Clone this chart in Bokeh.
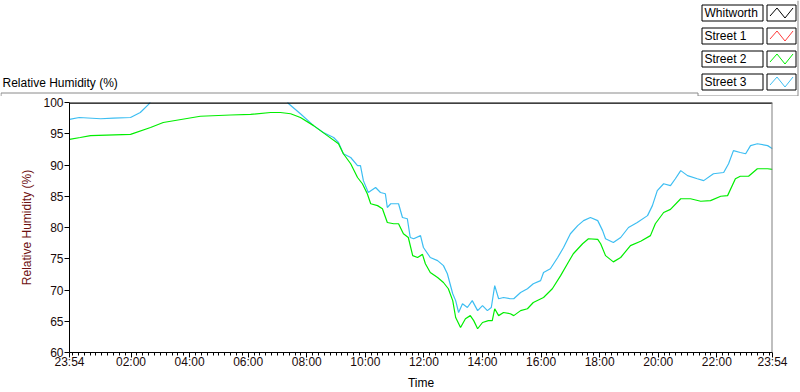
from bokeh.plotting import figure
from bokeh.models import Range1d, FixedTicker, Span
from bokeh.layouts import column
from bokeh.embed import file_html
from bokeh.resources import INLINE
from bokeh.core.properties import value

FONT = "Liberation Sans"
START = "23:54"

series_names = ["Whitworth", "Street 1", "Street 2", "Street 3"]
series_colors = ["#000000", "#FF3B3B", "#00EE00", "#3DBEF2"]

street2_time = ["23:54", "00:16", "00:37", "01:59", "02:40", "03:06", "04:22", "05:24", "06:05", "06:46",
                "07:06", "07:27", "07:47", "08:14", "08:42", "09:05", "09:15", "09:30", "09:44", "09:54",
                "10:04", "10:11", "10:25", "10:35", "10:45", "10:58", "11:08", "11:18", "11:28", "11:37",
                "11:47", "11:57", "12:03", "12:13", "12:28", "12:40", "12:50", "12:59", "13:05", "13:15",
                "13:25", "13:35", "13:42", "13:50", "14:00", "14:12", "14:20", "14:25", "14:33", "14:43",
                "14:57", "15:04", "15:18", "15:32", "15:44", "16:05", "16:23", "16:40", "16:54", "17:06",
                "17:25", "17:37", "17:56", "18:02", "18:12", "18:28", "18:43", "19:03", "19:24", "19:44",
                "19:54", "20:11", "20:25", "20:46", "21:06", "21:27", "21:47", "22:08", "22:22", "22:38",
                "22:48", "23:05", "23:23", "23:44", "23:54"]
street2_rh = [94.1, 94.4, 94.7, 94.9, 96.0, 96.8, 97.8, 98.0, 98.1, 98.4,
              98.4, 98.2, 97.6, 96.3, 94.7, 93.4, 91.8, 90.2, 88.0, 87.0,
              85.4, 83.8, 83.5, 83.0, 80.8, 80.6, 80.6, 79.0, 78.4, 75.5,
              75.2, 75.7, 74.2, 72.8, 72.0, 71.2, 70.2, 68.3, 65.6, 64.0,
              65.4, 65.9, 65.1, 63.8, 64.8, 65.1, 65.1, 67.0, 65.9, 66.4,
              66.2, 65.9, 66.7, 67.0, 68.0, 68.8, 70.2, 72.3, 74.2, 75.8,
              77.4, 78.2, 78.1, 77.4, 75.5, 74.5, 75.2, 77.1, 77.8, 78.7,
              80.6, 82.4, 82.9, 84.6, 84.6, 84.2, 84.3, 85.0, 85.1, 87.8,
              88.2, 88.2, 89.4, 89.4, 89.3]

street3_time = ["23:54", "00:14", "00:58", "01:24", "01:59", "02:19", "02:36", "02:44", "07:16", "07:23",
                "07:47", "08:14", "08:34", "08:55", "09:05", "09:15", "09:30", "09:44", "09:50", "09:56",
                "10:06", "10:21", "10:31", "10:41", "10:45", "10:52", "11:08", "11:16", "11:26", "11:32",
                "11:39", "11:53", "11:59", "12:13", "12:28", "12:40", "12:48", "12:59", "13:05", "13:11",
                "13:19", "13:29", "13:39", "13:50", "14:00", "14:10", "14:18", "14:25", "14:33", "14:43",
                "14:57", "15:04", "15:18", "15:32", "15:44", "15:59", "16:05", "16:19", "16:34", "16:46",
                "17:00", "17:15", "17:27", "17:41", "17:56", "18:06", "18:12", "18:28", "18:43", "18:59",
                "19:17", "19:38", "19:48", "19:58", "20:11", "20:25", "20:35", "20:46", "21:00", "21:20",
                "21:33", "21:53", "22:14", "22:24", "22:34", "22:48", "22:59", "23:09", "23:23", "23:44",
                "23:54"]
street3_rh = [97.3, 97.6, 97.4, 97.5, 97.6, 98.4, 99.7, 100.6, 100.6, 99.8,
              98.2, 96.3, 95.2, 94.4, 93.6, 91.8, 91.2, 89.9, 89.9, 87.5,
              85.6, 86.4, 85.6, 85.4, 83.2, 83.8, 83.8, 81.6, 81.4, 78.4,
              78.2, 78.7, 76.8, 75.2, 74.7, 73.9, 72.6, 69.4, 68.3, 66.4,
              67.8, 67.2, 68.3, 66.7, 67.5, 66.7, 67.2, 70.7, 68.6, 68.8,
              68.6, 68.6, 69.6, 70.2, 71.0, 71.5, 72.8, 73.4, 75.2, 76.8,
              79.0, 80.3, 81.1, 81.6, 81.1, 79.5, 78.2, 77.6, 78.4, 80.0,
              80.8, 81.9, 83.5, 85.9, 87.0, 86.7, 87.8, 89.1, 88.3, 87.8,
              87.5, 88.6, 88.8, 90.2, 92.3, 92.0, 91.8, 93.1, 93.4, 93.1,
              92.6]

x_tick_labels = ["23:54", "02:00", "04:00", "06:00", "08:00", "10:00", "12:00",
                 "14:00", "16:00", "18:00", "20:00", "22:00", "23:54"]
y_ticks = [60, 65, 70, 75, 80, 85, 90, 95, 100]


def to_offsets(times):
    sh, sm = map(int, START.split(":"))
    s = sh * 60 + sm
    out, prev = [], -1
    for t in times:
        h, m = map(int, t.split(":"))
        o = (h * 60 + m - s) % 1440
        if o <= prev:
            o += 1440
        out.append(o)
        prev = o
    return out


W = 800
TOP_H = 96
BOT_H = 296

# ---------------- top strip: title + legend ----------------
top = figure(width=W, height=TOP_H, x_range=Range1d(0, W), y_range=Range1d(TOP_H, 0),
             output_backend="svg", toolbar_location=None, min_border=0,
             x_axis_location=None, y_axis_location=None)
top.grid.visible = False
top.outline_line_color = None
top.frame_align = False

row_tops = [4.5 + 23 * i for i in range(len(series_names))]
row_bots = [t + 16 for t in row_tops]
row_mids = [(a + b) / 2 for a, b in zip(row_tops, row_bots)]
tb_l, tb_r = 701.5, 762.5
ib_l, ib_r = 766.5, 795.5
top.quad(left=[tb_l] * 4, right=[tb_r] * 4, top=row_tops, bottom=row_bots,
         fill_color="white", line_color="black", line_width=1)
top.quad(left=[ib_l] * 4, right=[ib_r] * 4, top=row_tops, bottom=row_bots,
         fill_color="white", line_color="black", line_width=1)
top.text(x=[tb_l + 2.5] * 4, y=row_mids, text=series_names, text_font=value(FONT),
         text_font_size="12px", text_baseline="middle", text_color="black")
for t, b, c in zip(row_tops, row_bots, series_colors):
    top.line([ib_l + 3, ib_l + 10, ib_l + 18, ib_l + 26], [(t + b) / 2 + 3, t + 3, b - 3, t + 3],
             line_color=c, line_width=1)

# panel border lines
top.line([0.5, 0.5, 697.5, 697.5, 797.5, 797.5], [TOP_H, 92.5, 92.5, 95.5, 95.5, 0],
         line_color="#8a8a8a", line_width=1)

top.text(x=[2], y=[82], text=["Relative Humidity (%)"], text_font=value(FONT),
         text_font_size="12px", text_baseline="middle", text_color="black")

# ---------------- main chart ----------------
p = figure(width=W, height=BOT_H, x_range=Range1d(0, 1440), y_range=Range1d(60, 100),
           output_backend="svg", toolbar_location=None,
           min_border_left=69, min_border_right=28, min_border_top=6, min_border_bottom=40)
p.grid.visible = False
p.outline_line_color = None
p.frame_align = False

x2 = to_offsets(street2_time)
x3 = to_offsets(street3_time)
p.line(x3, street3_rh, line_color=series_colors[3], line_width=1.2)
p.line(x2, street2_rh, line_color=series_colors[2], line_width=1.2)

p.add_layout(Span(location=100, dimension="width", line_color="black", line_width=2.5))
p.add_layout(Span(location=1440, dimension="height", line_color="#808080", line_width=2))

x_major = to_offsets(x_tick_labels)
x_minor = list(range(6, 1440, 12))
p.xaxis.ticker = FixedTicker(ticks=x_major, minor_ticks=x_minor)
p.xaxis.major_label_overrides = {t: l for t, l in zip(x_major, x_tick_labels)}
p.xaxis.axis_label = "Time"

p.yaxis.ticker = FixedTicker(ticks=y_ticks, minor_ticks=[])
p.yaxis.axis_label = "Relative Humidity (%)"

for ax in (p.xaxis[0], p.yaxis[0]):
    ax.axis_line_color = "black"
    ax.major_tick_line_color = "black"
    ax.minor_tick_line_color = "black"
    ax.major_tick_in = 0
    ax.minor_tick_in = 0
    ax.major_label_text_font = FONT
    ax.axis_label_text_font = FONT
    ax.axis_label_text_font_style = "normal"
    ax.major_label_text_color = "#1a0a0a"

p.xaxis.major_tick_out = 5
p.xaxis.minor_tick_out = 3
p.xaxis.major_label_standoff = -3
p.xaxis.major_label_text_font_size = "12px"
p.xaxis.axis_label_standoff = 4
p.xaxis.axis_label_text_font_size = "12px"
p.xaxis.axis_label_text_color = "black"

p.yaxis.major_tick_out = 5
p.yaxis.minor_tick_out = 0
p.yaxis.major_label_standoff = 1
p.yaxis.major_label_text_font_size = "12px"
p.yaxis.axis_label_standoff = 6
p.yaxis.axis_label_text_font_size = "12px"
p.yaxis.axis_label_text_color = "#6e1010"

layout = column(top, p, spacing=0)
open("out.html", "w").write(file_html(layout, INLINE))
